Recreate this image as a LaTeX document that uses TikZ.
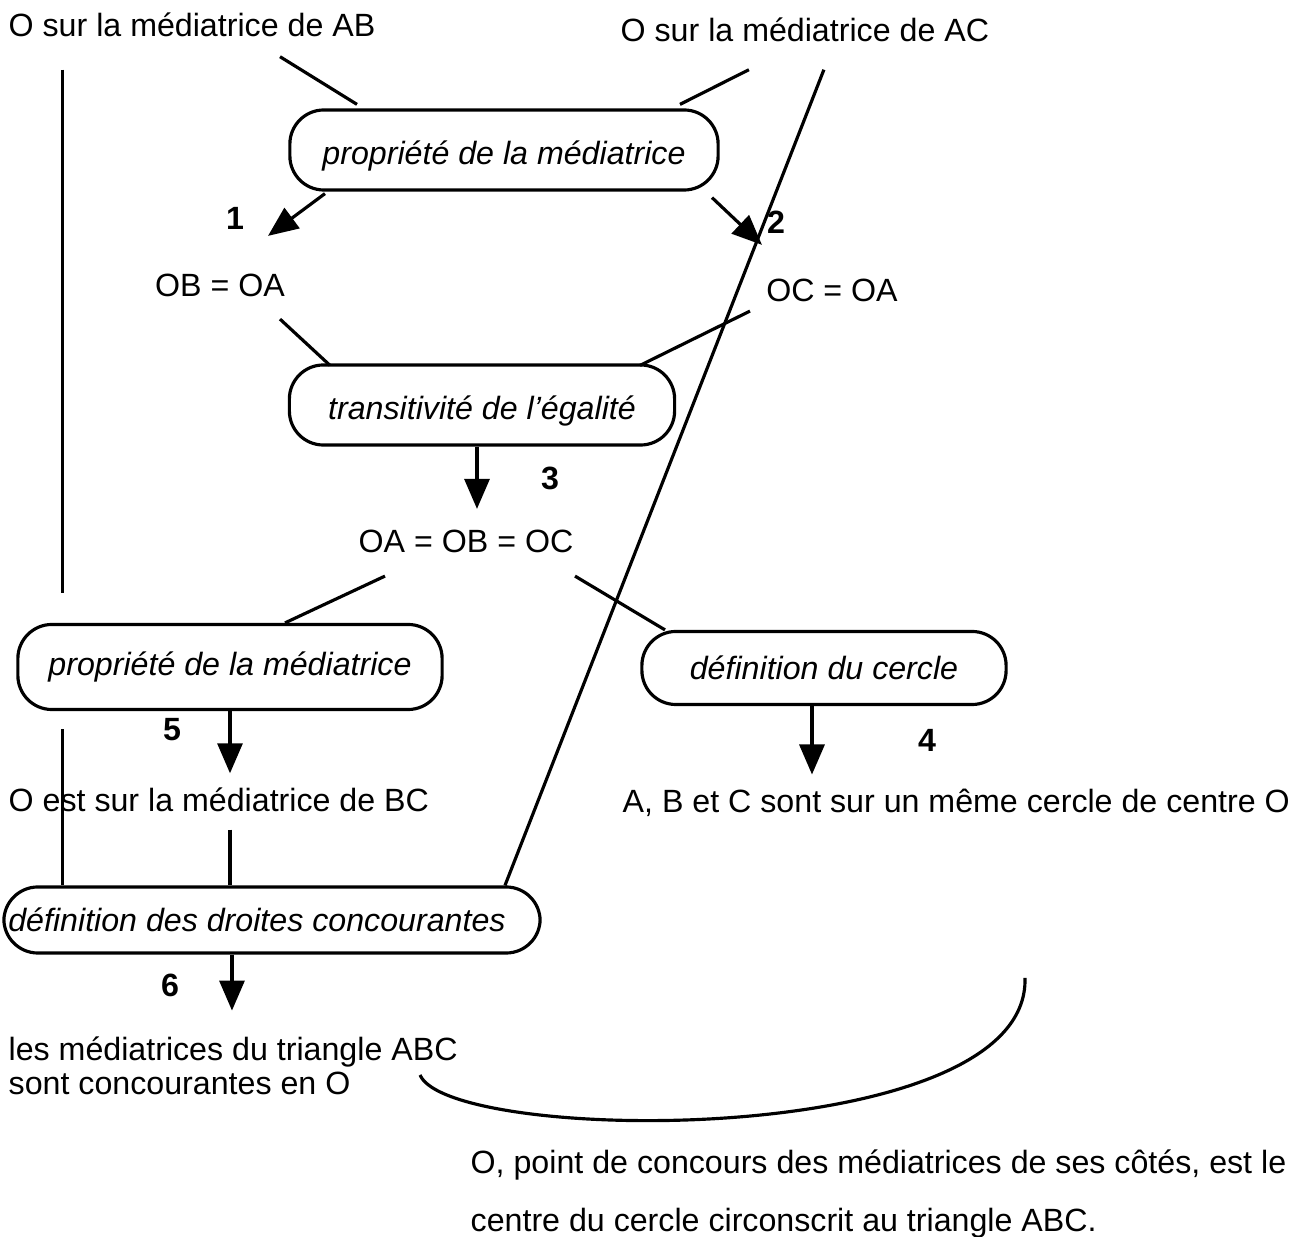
\documentclass[tikz,border=0pt]{standalone}
\usepackage{fontspec}
\setmainfont{Liberation Sans}
\usetikzlibrary{arrows.meta, calc}
\newcommand{\diagfont}{\fontsize{9.15}{9.5}\selectfont}
\tikzset{
  rulebox/.style={
    draw, line width=0.9pt, rounded corners=0.34cm,
    minimum height=0.8cm, align=center,
    font=\diagfont\itshape
  },
  lowtext/.style={text height=10.2pt, text depth=1.9pt},
  stmt/.style={inner sep=0pt, align=left},
  stepnum/.style={font=\diagfont\bfseries, inner sep=0pt},
  linkline/.style={draw, line width=0.9pt},
  steparrow/.style={
    -{Triangle[length=0.3cm,width=0.25cm]},
    draw, line width=0.9pt
  },
}

\begin{document}
\begin{tikzpicture}[x=0.01cm, y=-0.01cm, font=\diagfont]
  \useasboundingbox (0,0) rectangle (1302,1237);

  %% Hypotheses
  \node[stmt, anchor=west] (hypAB) at (8,25) {O sur la médiatrice de AB};
  \node[stmt, anchor=west] (hypAC) at (620,30) {O sur la médiatrice de AC};

  %% Rules
  \node[rulebox, lowtext, minimum width=4.28cm] (propAB) at (504,150)
    {propriété de la médiatrice};
  \node[rulebox, lowtext, minimum width=3.85cm] (trans) at (482,405)
    {transitivité de l'égalité};
  \node[rulebox, minimum width=4.24cm, minimum height=0.85cm] (propBC) at (230,667)
    {propriété de la médiatrice};
  \node[rulebox, minimum width=3.64cm, minimum height=0.73cm] (defcercle) at (824,668)
    {définition du cercle};
  \node[rulebox, minimum width=5.36cm, minimum height=0.66cm] (defconc) at (272,920)
    {\hspace*{-0.3cm}définition des droites concourantes};

  %% Intermediate results
  \node[stmt] (obOA) at (220,285) {OB = OA};
  \node[stmt] (ocOA) at (832,290) {OC = OA};
  \node[stmt] (egal) at (466,541) {OA = OB = OC};
  \node[stmt, anchor=west] (surBC) at (8,800) {O est sur la médiatrice de BC};
  \node[stmt, anchor=west] (cercle) at (622,803)
    {A, B et C sont sur un même cercle de centre O};
  \node[stmt, anchor=west] (concour) at (8,1066)
    {les médiatrices du triangle ABC\\sont concourantes en O};
  \node[stmt, anchor=west, font=\fontsize{9.15}{16.5}\selectfont] (bilan) at (470,1194)
    {O, point de concours des médiatrices de ses côtés, est le\\
     centre du cercle circonscrit au triangle ABC.};

  %% Step numbers
  \node[stepnum] (s1) at (235,218) {1};
  \node[stepnum] (s2) at (776,222) {2};
  \node[stepnum] (s3) at (550,478) {3};
  \node[stepnum] (s4) at (927,740) {4};
  \node[stepnum] (s5) at (172,730) {5};
  \node[stepnum] (s6) at (170,985) {6};

  %% Links into rules
  \draw[linkline] ($(hypAB.south)+(88,19)$) -- ($(propAB.north)+(-147,-4)$);
  \draw[linkline] ($(hypAC.south)+(-56,27)$) -- ($(propAB.north)+(176,-4)$);
  \draw[linkline] ($(obOA.south)+(60,22)$) -- ($(trans.north)+(-152,2)$);
  \draw[linkline] ($(ocOA.south)+(-82,9)$) -- ($(trans.north)+(158,2)$);
  \draw[linkline] ($(egal.south)+(-81,23)$) -- ($(propBC.north)+(55,0)$);
  \draw[linkline] ($(egal.south)+(109,23)$) -- ($(defcercle.north)+(-159,0)$);
  \draw[linkline] ([xshift=-0.42cm, yshift=-0.17cm]defconc.north |- surBC.south)
    -- ([xshift=-0.42cm]defconc.north);

  %% Long links
  \draw[linkline] ([xshift=-1.67cm, yshift=-0.32cm]propBC.north |- hypAB.south)
    -- ([xshift=-1.67cm, yshift=0.3cm]propBC.north);
  \draw[linkline] ([xshift=-1.67cm, yshift=-0.18cm]propBC.south)
    -- ([xshift=-1.67cm]propBC.south |- defconc.north);
  \draw[linkline] ($(hypAC.south)+(19,27)$) -- ($(defconc.north)+(233,0)$);

  %% Deductions
  \draw[steparrow] ($(propAB.south)+(-179,2)$) -- ($(obOA.north)+(48,-37)$);
  \draw[steparrow] ($(propAB.south)+(208,6)$) -- ($(ocOA.north)+(-70,-33)$);
  \draw[steparrow] ([xshift=-0.05cm]trans.south)
    -- ([xshift=-0.05cm, yshift=0.2cm]trans.south |- egal.north);
  \draw[steparrow] ([xshift=-0.12cm]defcercle.south)
    -- ([xshift=-0.12cm, yshift=0.14cm]defcercle.south |- cercle.north);
  \draw[steparrow] (propBC.south)
    -- ([yshift=0.14cm]propBC.south |- surBC.north);
  \draw[steparrow] ([xshift=-0.4cm]defconc.south)
    -- ([xshift=-0.4cm, yshift=0.26cm]defconc.south |- concour.north);

  %% Brace to conclusion
  \coordinate (arcA) at (420,1075);
  \coordinate (arcB) at (1025,978);
  \draw[linkline] (arcA) .. controls (450,1145) and (1030,1150) .. (arcB);
\end{tikzpicture}
\end{document}
